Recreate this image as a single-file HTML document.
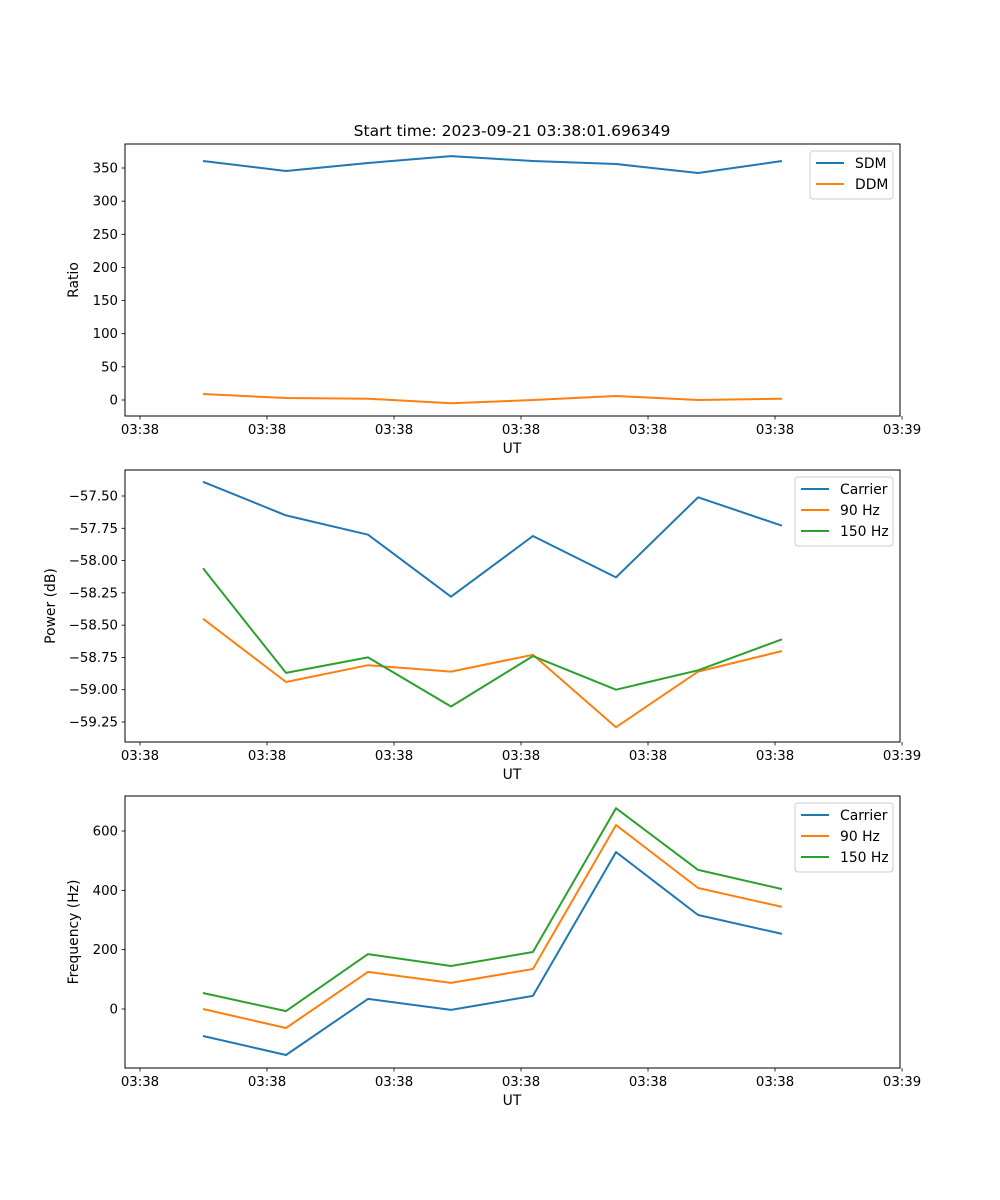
<!DOCTYPE html>
<html><head><meta charset="utf-8"><style>
body{margin:0;background:#fff}
svg{display:block;font-family:"DejaVu Sans","Liberation Sans",sans-serif}
</style></head><body>
<svg id="fig" width="1000" height="1200" xmlns="http://www.w3.org/2000/svg">
<text x="512" y="136" font-size="15.5" text-anchor="middle">Start time: 2023-09-21 03:38:01.696349</text>
</svg>
<script>
const times = [0.496, 1.15, 1.795, 2.449, 3.094, 3.748, 4.394, 5.055];
const xTickVals = [0, 1, 2, 3, 4, 5, 6];
const xTickLabels = ["03:38","03:38","03:38","03:38","03:38","03:38","03:39"];
const sdm = [360.5, 345.5, 357.5, 368, 360.5, 356, 342.5, 360.5];
const ddm = [9, 3, 2, -5, 0, 6, 0, 2];
const pCarrier = [-57.39, -57.65, -57.80, -58.28, -57.81, -58.13, -57.51, -57.73];
const p90 = [-58.45, -58.94, -58.81, -58.86, -58.73, -59.29, -58.86, -58.70];
const p150 = [-58.06, -58.87, -58.75, -59.13, -58.74, -59.00, -58.85, -58.61];
const fCarrier = [-91, -155, 34, -3, 44, 529, 317, 253];
const f90 = [0, -64, 125, 88, 135, 620, 408, 344];
const f150 = [54, -7, 185, 145, 192, 677, 469, 404];
const ratioTicks = [0, 50, 100, 150, 200, 250, 300, 350];
const powerTicks = [-57.5, -57.75, -58.0, -58.25, -58.5, -58.75, -59.0, -59.25];
const freqTicks = [0, 200, 400, 600];

const NS = "http://www.w3.org/2000/svg";
const svg = document.getElementById('fig');
const L = 125, R = 900;
const xMin = -0.118, xMax = 5.984;
function xs(t){ return L + (t - xMin) / (xMax - xMin) * (R - L); }
function el(tag, attrs, parent){ const e = document.createElementNS(NS, tag); for (const k in attrs) e.setAttribute(k, attrs[k]); (parent||svg).appendChild(e); return e; }
const C = ['#1f77b4', '#ff7f0e', '#2ca02c'];

function panel(name, top, bot, yMin, yMax, yTicks, fmt, ylabel, ylabelX, series, names, legend){
  const g = el('g', {});
  
  
  const ys = v => bot - (v - yMin) / (yMax - yMin) * (bot - top);
  // ticks
  yTicks.forEach(v => {
    const y = ys(v);
    el('line', {x1: L-3.5, x2: L, y1: y, y2: y, stroke: '#000', 'stroke-width': 0.8}, g);
    const t = el('text', {x: L-7, y: y+4.5, 'font-size': 13.3, 'text-anchor': 'end'}, g);
    
    
    t.textContent = fmt(v);
  });
  xTickVals.forEach((v, i) => {
    const x = xs(v);
    el('line', {x1: x, x2: x, y1: bot, y2: bot+3.5, stroke: '#000', 'stroke-width': 0.8}, g);
    const t = el('text', {x: x, y: bot+18, 'font-size': 13.3, 'text-anchor': 'middle'}, g);
    
    
    t.textContent = xTickLabels[i];
  });
  const xl = el('text', {x: 512, y: bot+37, 'font-size': 13.9, 'text-anchor': 'middle'}, g);
  
  
  xl.textContent = 'UT';
  const my = (top+bot)/2;
  const yl = el('text', {x: ylabelX, y: my, 'font-size': 13.9, 'text-anchor': 'middle', transform: `rotate(-90 ${ylabelX} ${my})`}, g);
  
  
  yl.textContent = ylabel;
  series.forEach((s, k) => {
    const pts = s.map((v, i) => xs(times[i]).toFixed(1) + ',' + ys(v).toFixed(1)).join(' ');
    const p = el('polyline', {points: pts, fill: 'none', stroke: C[k], 'stroke-width': 2, 'stroke-linejoin': 'round'}, g);
    
    
  });
  el('rect', {x: L, y: top, width: R-L, height: bot-top, fill: 'none', stroke: '#000', 'stroke-width': 1}, g);
  // legend
  const lg = el('g', {}, g);
  
  
  el('rect', {x: legend.x, y: top+7, width: 893-legend.x, height: names.length*21+6, rx: 3, fill: '#fff', stroke: '#ccc', 'stroke-width': 1}, lg);
  names.forEach((n, k) => {
    const y = top + 7 + 12 + k*21;
    el('line', {x1: legend.x+6, x2: legend.x+34, y1: y, y2: y, stroke: C[k], 'stroke-width': 2}, lg);
    const t = el('text', {x: legend.x+45, y: y+5, 'font-size': 13.9}, lg);
    
    
    t.textContent = n;
  });
}
const bot1 = 416, top1 = 144;
// Ratio: 0 at y=400, 350 at y=168
const r0 = 400, r350 = 168, rpp = 350/(r0-r350);
panel('ratio', top1, bot1, -(bot1-r0)*rpp, 350+(r350-top1)*rpp, ratioTicks, v=>String(v), 'Ratio', 78, [sdm, ddm], ['SDM','DDM'], {x: 810});
// Power: -57.5 at 496, -59.25 at 722
const pp = 1.75/(722-496);
panel('power', 470, 742, -59.25-(742-722)*pp, -57.5+(496-470)*pp, powerTicks, v=>'\u2212'+Math.abs(v).toFixed(2), 'Power (dB)', 55, [pCarrier, p90, p150], ['Carrier','90 Hz','150 Hz'], {x: 795});
// Freq: 0 at 1009, 600 at 831
const fp = 600/(1009-831);
panel('freq', 796, 1068, -(1068-1009)*fp, 600+(831-796)*fp, freqTicks, v=>String(v), 'Frequency (Hz)', 78, [fCarrier, f90, f150], ['Carrier','90 Hz','150 Hz'], {x: 795});
</script>
</body></html>
